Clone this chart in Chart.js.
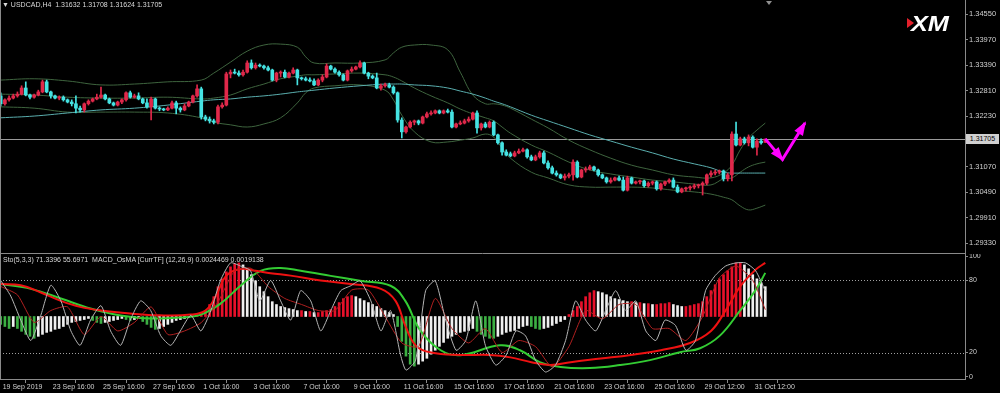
<!DOCTYPE html>
<html><head><meta charset="utf-8">
<script src="https://cdn.jsdelivr.net/npm/chart.js@4.4.1/dist/chart.umd.min.js"></script>
<style>
html,body{margin:0;padding:0;background:#000;width:1000px;height:393px;overflow:hidden;font-family:"Liberation Sans",Arial,sans-serif}
canvas{position:absolute;left:0}
#c1{top:0}
#c2{top:254px}
.t{position:absolute;color:#d8d8d8;font-size:7px;line-height:8px;white-space:pre}
</style></head><body>
<canvas id="c1" width="1000" height="254" style="width:1000px;height:254px"></canvas>
<canvas id="c2" width="1000" height="139" style="width:1000px;height:139px"></canvas>
<div class="t" style="left:2px;top:1px">▼ USDCAD,H4  1.31632 1.31708 1.31624 1.31705</div>
<div class="t" style="left:3px;top:256px">Sto(5,3,3) 71.3396 55.6971  MACD_OsMA [CurrTF] (12,26,9) 0.0024469 0.0019138</div>
<div class="t" id="bid" style="left:966px;top:134px;width:33px;height:10px;line-height:10px;background:#d0d0d0;color:#000;text-align:center">1.31705</div>
<div style="position:absolute;left:766px;top:1px;width:0;height:0;border-left:3px solid transparent;border-right:3px solid transparent;border-top:4px solid #909090"></div>
<div style="position:absolute;left:905px;top:12px;width:50px;height:24px">
  <div style="position:absolute;left:2px;top:6px;width:0;height:0;border-top:5px solid transparent;border-bottom:5px solid transparent;border-left:7px solid #e3202b"></div>
  <span style="position:absolute;left:6px;top:1px;font:italic bold 22px 'Liberation Sans',Arial,sans-serif;line-height:22px;color:#fff;letter-spacing:0px;transform:scaleX(1.15);transform-origin:left top">XM</span>
</div>
<script>
// ---------- data ----------
const timeLabels = ["19 Sep 2019","23 Sep 16:00","25 Sep 16:00","27 Sep 16:00","1 Oct 16:00","3 Oct 16:00","7 Oct 16:00","9 Oct 16:00","11 Oct 16:00","15 Oct 16:00","17 Oct 16:00","21 Oct 16:00","23 Oct 16:00","25 Oct 16:00","29 Oct 12:00","31 Oct 12:00"];
const timeTickBars = [0,12,24,36,48,60,72,84,96,108,120,132,144,156,168,180];
const priceTicks = [1.34550,1.33970,1.33390,1.32810,1.32230,1.31650,1.31070,1.30490,1.29910,1.29330];
const stochTicks = [0,20,80,100];
const stochLevels = [20,80];

const opens = [1.3269,1.3251,1.3260,1.3264,1.3269,1.3273,1.3287,1.3271,1.3266,1.3271,
1.3278,1.3301,1.3278,1.3269,1.3264,1.3266,1.3260,1.3255,1.3251,1.3241,
1.3237,1.3251,1.3257,1.3262,1.3266,1.3271,1.3262,1.3253,1.3248,1.3255,
1.3260,1.3276,1.3266,1.3269,1.3262,1.3253,1.3244,1.3262,1.3241,1.3239,
1.3237,1.3241,1.3253,1.3241,1.3237,1.3246,1.3255,1.3269,1.3285,1.3221,
1.3216,1.3212,1.3209,1.3244,1.3248,1.3319,1.3323,1.3321,1.3317,1.3323,
1.3344,1.3333,1.3339,1.3337,1.3333,1.3328,1.3305,1.3321,1.3323,1.3312,
1.3321,1.3328,1.3310,1.3308,1.3305,1.3303,1.3294,1.3305,1.3312,1.3337,
1.3330,1.3323,1.3317,1.3305,1.3326,1.3330,1.3335,1.3344,1.3321,1.3314,
1.3310,1.3287,1.3292,1.3294,1.3289,1.3276,1.3214,1.3187,1.3198,1.3209,
1.3212,1.3207,1.3221,1.3228,1.3230,1.3235,1.3230,1.3235,1.3232,1.3198,
1.3205,1.3207,1.3212,1.3216,1.3230,1.3196,1.3205,1.3198,1.3209,1.3180,
1.3162,1.3141,1.3137,1.3132,1.3139,1.3143,1.3146,1.3130,1.3123,1.3130,
1.3139,1.3116,1.3105,1.3093,1.3089,1.3082,1.3086,1.3089,1.3118,1.3084,
1.3100,1.3102,1.3107,1.3100,1.3089,1.3082,1.3073,1.3077,1.3082,1.3077,
1.3054,1.3082,1.3070,1.3073,1.3075,1.3064,1.3070,1.3073,1.3057,1.3068,
1.3073,1.3077,1.3061,1.3050,1.3057,1.3059,1.3061,1.3064,1.3066,1.3070,
1.3089,1.3093,1.3095,1.3098,1.3080,1.3089,1.3182,1.3157,1.3171,1.3162,
1.3175,1.3152,1.3166,1.31632];
const highs = [1.3276,1.3262,1.3269,1.3273,1.3278,1.3292,1.3301,1.3273,1.3273,1.3282,
1.3305,1.3305,1.3280,1.3271,1.3269,1.3269,1.3262,1.3260,1.3269,1.3246,
1.3253,1.3260,1.3264,1.3273,1.3289,1.3273,1.3264,1.3255,1.3257,1.3262,
1.3278,1.3280,1.3273,1.3276,1.3264,1.3262,1.3266,1.3264,1.3244,1.3241,
1.3244,1.3257,1.3257,1.3244,1.3251,1.3257,1.3271,1.3294,1.3289,1.3225,
1.3221,1.3216,1.3248,1.3253,1.3323,1.3328,1.3330,1.3326,1.3328,1.3349,
1.3351,1.3344,1.3342,1.3339,1.3337,1.3330,1.3323,1.3326,1.3328,1.3323,
1.3333,1.3330,1.3312,1.3312,1.3310,1.3308,1.3308,1.3317,1.3342,1.3339,
1.3333,1.3326,1.3319,1.3328,1.3335,1.3337,1.3349,1.3346,1.3323,1.3317,
1.3321,1.3296,1.3298,1.3298,1.3292,1.3278,1.3219,1.3200,1.3212,1.3214,
1.3214,1.3223,1.3232,1.3235,1.3237,1.3237,1.3237,1.3239,1.3237,1.3207,
1.3212,1.3216,1.3221,1.3232,1.3235,1.3207,1.3209,1.3212,1.3212,1.3182,
1.3164,1.3146,1.3141,1.3143,1.3148,1.3150,1.3148,1.3134,1.3134,1.3143,
1.3143,1.3121,1.3109,1.3098,1.3091,1.3091,1.3093,1.3123,1.3121,1.3102,
1.3107,1.3111,1.3109,1.3102,1.3091,1.3084,1.3082,1.3084,1.3086,1.3084,
1.3086,1.3084,1.3075,1.3077,1.3077,1.3073,1.3075,1.3075,1.3070,1.3075,
1.3080,1.3082,1.3066,1.3059,1.3061,1.3064,1.3068,1.3068,1.3073,1.3091,
1.3098,1.3100,1.3100,1.3100,1.3093,1.3187,1.3209,1.3175,1.3175,1.3180,
1.3178,1.3171,1.3171,1.31708];
const lows = [1.3246,1.3248,1.3257,1.3262,1.3266,1.3271,1.3269,1.3262,1.3264,1.3269,
1.3276,1.3276,1.3264,1.3262,1.3260,1.3257,1.3253,1.3246,1.3230,1.3232,
1.3232,1.3248,1.3255,1.3260,1.3264,1.3260,1.3251,1.3246,1.3246,1.3251,
1.3257,1.3264,1.3264,1.3260,1.3251,1.3241,1.3214,1.3239,1.3235,1.3235,
1.3235,1.3239,1.3228,1.3232,1.3235,1.3244,1.3253,1.3266,1.3216,1.3212,
1.3207,1.3205,1.3205,1.3241,1.3246,1.3310,1.3319,1.3314,1.3314,1.3321,
1.3330,1.3330,1.3335,1.3330,1.3326,1.3303,1.3301,1.3312,1.3310,1.3310,
1.3319,1.3294,1.3305,1.3303,1.3301,1.3292,1.3292,1.3301,1.3310,1.3328,
1.3321,1.3314,1.3303,1.3303,1.3323,1.3328,1.3333,1.3319,1.3308,1.3308,
1.3285,1.3282,1.3289,1.3287,1.3273,1.3209,1.3173,1.3184,1.3196,1.3203,
1.3203,1.3205,1.3219,1.3225,1.3228,1.3228,1.3228,1.3230,1.3196,1.3196,
1.3203,1.3205,1.3209,1.3214,1.3184,1.3191,1.3196,1.3196,1.3178,1.3159,
1.3134,1.3132,1.3130,1.3130,1.3137,1.3141,1.3127,1.3121,1.3121,1.3127,
1.3114,1.3102,1.3091,1.3086,1.3080,1.3077,1.3082,1.3077,1.3082,1.3082,
1.3095,1.3100,1.3098,1.3086,1.3080,1.3070,1.3070,1.3075,1.3075,1.3052,
1.3052,1.3068,1.3068,1.3068,1.3061,1.3061,1.3066,1.3054,1.3054,1.3064,
1.3070,1.3059,1.3048,1.3048,1.3052,1.3054,1.3057,1.3059,1.3043,1.3066,
1.3084,1.3089,1.3091,1.3075,1.3075,1.3075,1.3155,1.3155,1.3159,1.3155,
1.3150,1.3134,1.3159,1.31624];
const closes = [1.3251,1.3260,1.3264,1.3269,1.3273,1.3287,1.3271,1.3266,1.3271,1.3278,
1.3301,1.3278,1.3269,1.3264,1.3266,1.3260,1.3255,1.3251,1.3241,1.3237,
1.3251,1.3257,1.3262,1.3266,1.3271,1.3262,1.3253,1.3248,1.3255,1.3260,
1.3276,1.3266,1.3269,1.3262,1.3253,1.3244,1.3262,1.3241,1.3239,1.3237,
1.3241,1.3253,1.3241,1.3237,1.3246,1.3255,1.3269,1.3285,1.3221,1.3216,
1.3212,1.3209,1.3244,1.3248,1.3319,1.3323,1.3321,1.3317,1.3323,1.3344,
1.3333,1.3339,1.3337,1.3333,1.3328,1.3305,1.3321,1.3323,1.3312,1.3321,
1.3328,1.3310,1.3308,1.3305,1.3303,1.3294,1.3305,1.3312,1.3337,1.3330,
1.3323,1.3317,1.3305,1.3326,1.3330,1.3335,1.3344,1.3321,1.3314,1.3310,
1.3287,1.3292,1.3294,1.3289,1.3276,1.3214,1.3187,1.3198,1.3209,1.3212,
1.3207,1.3221,1.3228,1.3230,1.3235,1.3230,1.3235,1.3232,1.3198,1.3205,
1.3207,1.3212,1.3216,1.3230,1.3196,1.3205,1.3198,1.3209,1.3180,1.3162,
1.3141,1.3134,1.3132,1.3139,1.3143,1.3146,1.3130,1.3123,1.3130,1.3139,
1.3116,1.3105,1.3093,1.3089,1.3082,1.3086,1.3089,1.3118,1.3084,1.3100,
1.3102,1.3107,1.3100,1.3089,1.3082,1.3073,1.3077,1.3082,1.3077,1.3054,
1.3082,1.3070,1.3073,1.3075,1.3064,1.3070,1.3073,1.3057,1.3068,1.3073,
1.3077,1.3061,1.3050,1.3057,1.3059,1.3061,1.3064,1.3066,1.3070,1.3089,
1.3093,1.3095,1.3098,1.3080,1.3089,1.3182,1.3157,1.3171,1.3162,1.3175,
1.3152,1.3166,1.3162,1.31705];

// Bollinger bands and moving average, read at sample bars
const bandX = [0,8,16,24,32,40,48,51,55,59,63,67,71,73,75,80,86,92,94,96,99,103,107,110,113,116,118,120,122,127,131,136,141,146,151,156,161,166,170,173,175,177,179,181,183];
const bbUpper = [1.3305,1.3308,1.3303,1.3294,1.3296,1.3301,1.3305,1.3321,1.3346,1.3371,1.3385,1.3387,1.3380,1.3358,1.3344,1.3344,1.3344,1.3351,1.3367,1.3380,1.3385,1.3385,1.3374,1.3323,1.3271,1.3251,1.3251,1.3248,1.3241,1.3216,1.3196,1.3168,1.3146,1.3127,1.3111,1.3100,1.3089,1.3084,1.3082,1.3093,1.3111,1.3146,1.3173,1.3191,1.3207];
const bbMiddle = [1.3273,1.3271,1.3266,1.3264,1.3264,1.3266,1.3262,1.3264,1.3271,1.3285,1.3296,1.3308,1.3314,1.3317,1.3317,1.3319,1.3321,1.3317,1.3312,1.3303,1.3287,1.3269,1.3253,1.3239,1.3228,1.3219,1.3212,1.3198,1.3184,1.3157,1.3141,1.3118,1.3100,1.3091,1.3084,1.3077,1.3073,1.3068,1.3066,1.3080,1.3082,1.3095,1.3107,1.3114,1.3118];
const bbLower = [1.3244,1.3241,1.3232,1.3232,1.3232,1.3230,1.3219,1.3209,1.3203,1.3198,1.3205,1.3219,1.3253,1.3276,1.3287,1.3292,1.3294,1.3282,1.3260,1.3225,1.3187,1.3164,1.3164,1.3168,1.3173,1.3182,1.3175,1.3150,1.3127,1.3095,1.3082,1.3066,1.3061,1.3061,1.3061,1.3059,1.3054,1.3050,1.3045,1.3038,1.3032,1.3018,1.3009,1.3013,1.3020];
const maLine = [1.3219,1.3223,1.3230,1.3237,1.3241,1.3248,1.3257,1.3260,1.3262,1.3266,1.3269,1.3273,1.3278,1.3280,1.3282,1.3287,1.3292,1.3296,1.3296,1.3296,1.3294,1.3292,1.3287,1.3280,1.3273,1.3264,1.3257,1.3251,1.3244,1.3225,1.3212,1.3196,1.3180,1.3166,1.3152,1.3139,1.3125,1.3114,1.3105,1.3095,1.3093,1.3093,1.3093,1.3093,1.3093];

// forecast arrow (bar, price)
const arrowX = [183,187.1,192.5];
const arrowY = [1.3171,1.3124,1.3207];

// lower window
const osma = [-0.00044,-0.00056,-0.00067,-0.00056,
-0.00067,-0.00083,-0.001,-0.00111,-0.00122,-0.00111,-0.001,-0.00089,-0.00083,-0.00072,-0.00067,
-0.00056,-0.00044,-0.00033,-0.00028,-0.00022,-0.00017,-0.00011,
-0.00022,-0.00033,-0.00039,-0.00033,-0.00028,
-0.00022,-0.00017,-0.00011,-0.00017,-0.00022,-0.00017,-0.00011,
-0.00028,-0.00044,-0.00061,-0.00072,-0.00067,-0.00056,-0.00044,
-0.00033,-0.00022,-0.00017,-0.00011,-0.00006,0.00006,0.00011,0.00017,
0.00033,0.00067,0.00111,0.00167,0.00211,0.0025,0.00278,0.00295,0.003,
0.00289,0.00267,0.00234,0.002,0.00167,0.00139,0.00111,
0.00083,0.00067,0.00056,0.0005,0.00044,0.00039,0.00033,0.00033,0.00028,0.00028,
0.00022,0.00022,0.00028,0.00033,0.00039,
0.00056,0.00078,0.001,0.00111,0.00117,0.00111,0.001,0.00089,0.00078,
0.00067,0.00056,0.00044,0.00033,0.00022,0.00011,
-0.00056,-0.00139,-0.00222,-0.00267,-0.00278,
-0.00267,-0.0025,-0.00234,-0.00211,-0.00189,-0.00167,-0.00145,-0.00122,
-0.00111,-0.001,-0.00089,-0.00083,-0.00078,-0.00067,
-0.00083,-0.001,-0.00111,-0.00122,-0.00122,
-0.00111,-0.001,-0.00089,-0.00083,-0.00078,-0.00067,-0.00056,-0.0005,
-0.00056,-0.00067,-0.00072,-0.00067,-0.00061,-0.0005,-0.00039,-0.00028,-0.00017,
0.00011,0.00033,0.00056,0.00083,0.00111,0.00133,0.00145,0.00139,
0.00133,0.00122,0.00111,0.001,0.00095,0.00089,0.00083,
0.00083,0.00078,0.00078,0.00072,0.00072,0.00067,0.00067,0.00072,0.00072,0.00078,
0.00067,0.00061,0.00056,0.00056,0.00061,0.00067,0.00072,0.00083,
0.00111,0.00145,0.00178,0.00211,0.00234,0.00256,0.00278,0.003,0.003,
0.00289,0.00267,0.00234,0.00211,0.00189,0.00167];

const stochKX = [0,2.4,4.8,7.2,9.6,12,14.4,16.8,19,21.5,24,26.3,28.7,31,33.5,35.9,38.3,40.7,43,45.5,47.9,50.3,52.6,55,57.4,59.8,62,64.6,67,69.4,71.8,74.2,76.6,79,81.4,83.8,86,88.6,91,93.3,95.7,97,99.3,101.7,104,106.5,109,111.3,113.7,116,118.5,121,123.3,125.6,128,130.4,132.8,135.2,137.6,140,142.4,144.8,147.2,149.6,152,154.4,156.8,159,161.5,164,166.3,168.7,171,173.5,176,178.3,180.7,183];
const stochK = [80,67,47,30,51,76,63,38,26,47,59,38,26,47,63,55,34,26,38,51,38,55,80,94.6,92,88,63,80,63,47,71.5,63,38,55,71.5,75.6,79.7,63,38,55,18,5.4,13.7,71.5,79.7,47,21.9,30,63,26,9.6,18,38,34,13.7,3.8,9.6,30,63,47,38,55,71.5,55,63,38,30,47,42.6,21.9,30,71.5,84,92,94.6,94.6,88,71.3];
const stochDX = [0,4,8,12,16,20,24,28,32,36,40,44,48,52,56,60,64,68,72,76,80,84,88,92,96,100,104,108,112,116,120,124,128,132,136,140,144,148,152,156,160,164,168,172,176,180,183];
const stochD = [75,68,45,55,58,35,50,38,45,58,35,38,45,62,88,90,75,65,60,55,55,72,72,50,28,25,65,40,28,40,20,30,25,8,25,55,48,60,60,40,40,30,50,82,92,80,55.7];
const macdX = [0,4.8,9.6,14.4,19,24,31,38,45.5,49,51.5,54,57.4,61,64.6,69.4,76.6,83.8,91,94.5,96.8,99.3,103,110,117,122,127,131.6,136.4,143.6,150.8,158,165,170,173.5,177,180.7,183];
const macdLine = [77,76,70,63,58,55,52.5,51,51.6,55,67,84,89.6,88,86,84,80,77,73,63,42.6,26,20,18,18,16,12,9.6,12,15,18,22,28,38,55,75,89,94.6];
const sigX = [0,7.2,14.4,21.5,28.7,35.9,43,47.9,52.6,57.4,62.2,67,71.8,79,86,93.3,96.8,100.4,105.3,110,119.5,124.3,129,134,141,148.2,155.4,162.6,167.4,172.2,177,180.6,183];
const sigLine = [77,73,65,56.6,50.8,48.3,49.2,51.6,60.7,75.6,88,90.4,88,83.8,79.7,75.6,63.2,38.4,21.9,17.8,26.1,21.9,12.1,8,7.1,9.6,13.7,20.3,23.6,34.3,55,71.5,86.3];

// ---------- styling / setup ----------
const FONT = "'Liberation Sans', Arial, sans-serif";
const TXT = '#d0d0d0';
const FRAME = '#8a8a8a';
const UP = '#e0284a', DN = '#45e3e3';
const X_MIN = -0.17, X_MAX = 230.8;
const PX_PER_PRICE = 4386;       // vertical resolution of the price window
const P_MAX = 1.34876, P_MIN = P_MAX - 254 / PX_PER_PRICE;
const bars = closes.map((_, i) => i);
const candleColor = bars.map(i => closes[i] >= opens[i] ? UP : DN);
const pts = (xs, ys) => xs.map((x, k) => ({x, y: ys[k]}));
const bidPrice = closes[closes.length - 1];

const zeroPad = s => { s.paddingTop = 0; s.paddingBottom = 0; s.paddingLeft = 0; s.paddingRight = 0; };

const framePlugin = {
  id: 'frame',
  beforeDatasetsDraw(chart, args, opts) {
    const {ctx, chartArea: a, scales} = chart;
    ctx.save();
    if (opts.bid) {
      const y = Math.round(scales.y.getPixelForValue(bidPrice)) + 0.5;
      ctx.strokeStyle = '#9a9a9a'; ctx.lineWidth = 1;
      ctx.beginPath(); ctx.moveTo(a.left, y); ctx.lineTo(a.right, y); ctx.stroke();
    }
    if (opts.levels) {
      ctx.strokeStyle = '#a0a0a0'; ctx.lineWidth = 1; ctx.setLineDash([1, 2]);
      stochLevels.forEach(v => {
        const y = Math.round(scales.y.getPixelForValue(v)) + 0.5;
        ctx.beginPath(); ctx.moveTo(a.left, y); ctx.lineTo(a.right, y); ctx.stroke();
      });
    }
    ctx.restore();
  },
  afterDraw(chart, args, opts) {
    const {ctx, chartArea: a} = chart;
    ctx.save();
    ctx.strokeStyle = FRAME; ctx.lineWidth = 1;
    ctx.beginPath(); ctx.moveTo(0.5, a.top); ctx.lineTo(0.5, a.bottom); ctx.stroke();
    if (opts.bottom) { ctx.beginPath(); ctx.moveTo(0, a.bottom - 0.5); ctx.lineTo(a.right, a.bottom - 0.5); ctx.stroke(); }
    ctx.restore();
  }
};

const arrowPlugin = {
  id: 'arrowHeads',
  afterDatasetsDraw(chart) {
    const meta = chart.getDatasetMeta(0);
    const p = meta.data;
    const ctx = chart.ctx;
    ctx.save(); ctx.fillStyle = '#ff00ff';
    for (let k = 1; k < p.length; k++) {
      const a = p[k - 1], b = p[k];
      const ang = Math.atan2(b.y - a.y, b.x - a.x);
      const L = 12, W = 5, c = Math.cos(ang), s = Math.sin(ang);
      ctx.beginPath();
      ctx.moveTo(b.x + c * 2, b.y + s * 2);
      ctx.lineTo(b.x - L * c + W * s, b.y - L * s - W * c);
      ctx.lineTo(b.x - L * c - W * s, b.y - L * s + W * c);
      ctx.closePath(); ctx.fill();
    }
    ctx.restore();
  }
};

const lineDs = (label, data, color, width, order, extra) => Object.assign({
  type: 'line', label, data, borderColor: color, borderWidth: width, pointRadius: 0,
  tension: 0.4, fill: false, order
}, extra || {});

// ---------- price window ----------
new Chart(document.getElementById('c1'), {
  type: 'bar',
  data: {
    datasets: [
      lineDs('Forecast', pts(arrowX, arrowY), '#ff00ff', 3, 0, {tension: 0}),
      {label: 'Body', data: bars.map(i => ({x: i, y: [opens[i], closes[i]]})), backgroundColor: candleColor,
       barThickness: 3, minBarLength: 1, grouped: false, order: 1},
      {label: 'Wick', data: bars.map(i => ({x: i, y: [lows[i], highs[i]]})), backgroundColor: candleColor,
       barThickness: 1, grouped: false, order: 2},
      lineDs('MA', pts(bandX, maLine), '#5aaeae', 1, 3),
      lineDs('BB upper', pts(bandX, bbUpper), '#3e643e', 1, 4),
      lineDs('BB middle', pts(bandX, bbMiddle), '#3e643e', 1, 4),
      lineDs('BB lower', pts(bandX, bbLower), '#3e643e', 1, 4)
    ]
  },
  options: {
    responsive: false, animation: false, devicePixelRatio: 1,
    layout: {padding: 0},
    plugins: {legend: {display: false}, tooltip: {enabled: false}, frame: {bid: true, bottom: true}},
    scales: {
      x: {type: 'linear', display: false, min: X_MIN, max: X_MAX, offset: false},
      y: {
        position: 'right', min: P_MIN, max: P_MAX,
        afterFit(s) { s.width = 35; zeroPad(s); },
        afterBuildTicks(s) { s.ticks = priceTicks.map(v => ({value: v})); },
        ticks: {color: TXT, font: {family: FONT, size: 7.5}, padding: 1, callback: v => v.toFixed(5)},
        grid: {drawOnChartArea: false, tickLength: 3, color: FRAME},
        border: {color: FRAME}
      }
    }
  },
  plugins: [framePlugin, arrowPlugin]
});

// ---------- indicator window ----------
const osmaColor = osma.map((v, i) => {
  const prev = i > 0 ? osma[i - 1] : v;
  if (v >= 0) return v >= prev ? '#e8102a' : '#f0f0f0';
  return v <= prev ? '#3cb043' : '#f0f0f0';
});

new Chart(document.getElementById('c2'), {
  type: 'bar',
  data: {
    datasets: [
      lineDs('Sto main', pts(stochKX, stochK), '#b5b5b5', 1, 0, {yAxisID: 'y', tension: 0.2}),
      lineDs('Sto signal', pts(stochDX, stochD), '#b02020', 1, 1, {yAxisID: 'y', tension: 0.2}),
      lineDs('MACD', pts(macdX, macdLine), '#ee1111', 2, 2, {yAxisID: 'y'}),
      lineDs('Signal', pts(sigX, sigLine), '#33cc33', 2, 3, {yAxisID: 'y'}),
      {label: 'OsMA', data: bars.map(i => ({x: i, y: osma[i]})), yAxisID: 'yH', backgroundColor: osmaColor,
       barThickness: 2, grouped: false, order: 4}
    ]
  },
  options: {
    responsive: false, animation: false, devicePixelRatio: 1,
    layout: {padding: 0},
    plugins: {legend: {display: false}, tooltip: {enabled: false}, frame: {levels: true}},
    scales: {
      x: {
        type: 'linear', min: X_MIN, max: X_MAX, offset: false,
        afterFit(s) { s.height = 14; zeroPad(s); },
        afterBuildTicks(s) { s.ticks = timeTickBars.map(v => ({value: v})); },
        ticks: {color: TXT, font: {family: FONT, size: 7}, align: 'start', padding: 0, labelOffset: 2,
                maxRotation: 0, autoSkip: false, callback: (v, i) => timeLabels[i]},
        grid: {drawOnChartArea: false, tickLength: 4, color: FRAME},
        border: {color: FRAME}
      },
      y: {
        position: 'right', min: -2, max: 102,
        afterFit(s) { s.width = 35; zeroPad(s); },
        afterBuildTicks(s) { s.ticks = stochTicks.map(v => ({value: v})); },
        ticks: {color: TXT, font: {family: FONT, size: 7}, padding: 1, callback: v => String(v)},
        grid: {drawOnChartArea: false, tickLength: 3, color: FRAME},
        border: {color: FRAME}
      },
      yH: {display: false, min: -0.0035, max: 0.0035}
    }
  },
  plugins: [framePlugin]
});
</script>
</body></html>
